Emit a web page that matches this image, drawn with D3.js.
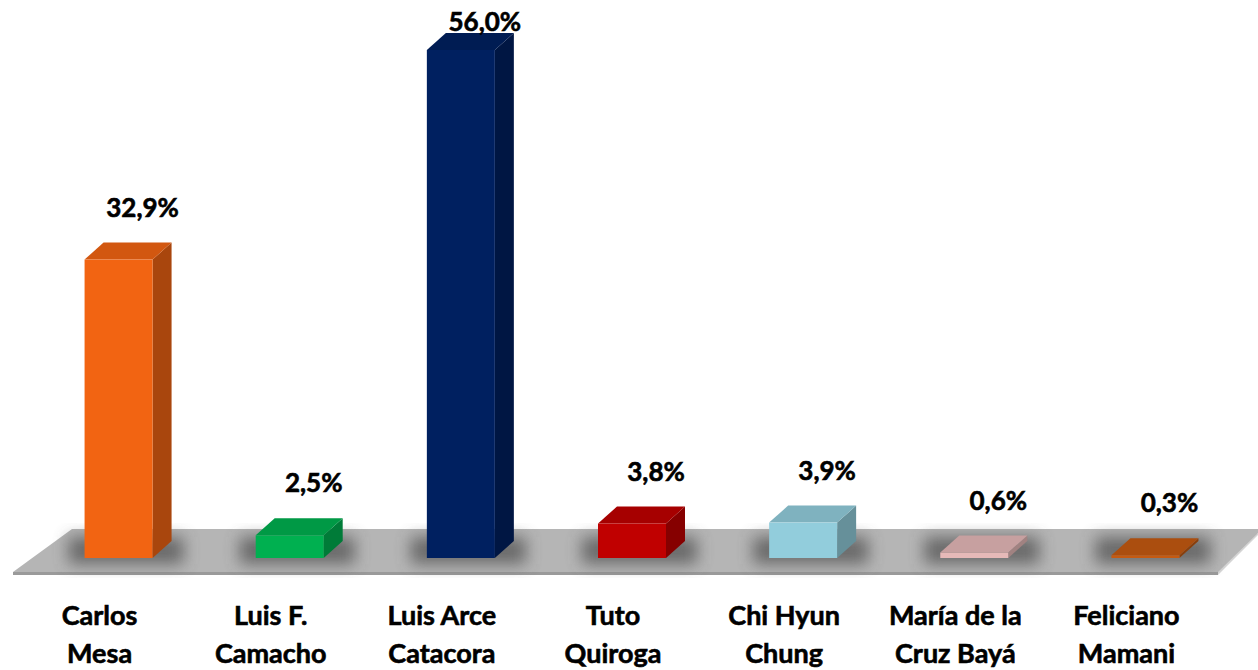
<!DOCTYPE html>
<html>
<head>
<meta charset="utf-8">
<script src="https://cdn.jsdelivr.net/npm/d3@7"></script>
<style>
  body { margin: 0; background: #fff; }
  text { font-family: Lato, "Open Sans", sans-serif; font-weight: bold; fill: #000; stroke: #000; stroke-width: 0.6px; }
</style>
</head>
<body>
<svg id="chart"></svg>
<script>
var width = 1258,
	height = 670;

// candidates (two lines each)
var names = ["Carlos Mesa", "Luis F. Camacho", "Luis Arce Catacora", "Tuto Quiroga",
	"Chi Hyun Chung", "María de la Cruz Bayá", "Feliciano Mamani"];
var nameLines = [["Carlos", "Mesa"], ["Luis F.", "Camacho"], ["Luis Arce", "Catacora"],
	["Tuto", "Quiroga"], ["Chi Hyun", "Chung"], ["María de la", "Cruz Bayá"], ["Feliciano", "Mamani"]];
var votes = [32.9, 2.5, 56.0, 3.8, 3.9, 0.6, 0.3];
var labels = ["32,9%", "2,5%", "56,0%", "3,8%", "3,9%", "0,6%", "0,3%"];
var colors = ["#F26412", "#00B050", "#002060", "#C00000", "#92CDDC", "#E6B9B8", "#C55A11"];

var floorFront = 572,
	floorBack = 529,
	baseY = 558,
	depthX = 19,
	depthY = 17,
	barW = 68;

var svg = d3.select("#chart")
	.attr("width", width)
	.attr("height", height);

var x = d3.scaleBand()
	.domain(names)
	.range([14, 1212]);

var y = d3.scaleLinear()
	.domain([0, 56])
	.range([baseY, 50]);

var defs = svg.append("defs");
defs.append("filter")
	.attr("id", "blur")
	.attr("x", "-50%").attr("y", "-50%").attr("width", "200%").attr("height", "200%")
	.append("feGaussianBlur")
	.attr("stdDeviation", 8);

// floor
svg.append("polygon")
	.attr("points", [[13, floorFront + 3], [1218, floorFront + 3], [1262, floorBack + 2], [1262, floorBack + 4]].join(" "))
	.attr("fill", "#d4d4d4");
svg.append("polygon")
	.attr("points", [[13, floorFront], [72, floorBack], [1262, floorBack], [1218, floorFront]].join(" "))
	.attr("fill", "#b5b5b5");
svg.append("line")
	.attr("x1", 13).attr("y1", floorFront + 1.5)
	.attr("x2", 1218).attr("y2", floorFront + 1.5)
	.attr("stroke", "#9a9a9a")
	.attr("stroke-width", 3);

var bar = svg.selectAll("g.bar")
	.data(names)
.enter().append("g")
	.attr("class", "bar")
	.attr("transform", function(d) { return "translate(" + (x(d) + x.bandwidth() / 2 + 19 - barW / 2) + ",0)"; });

// soft shadow around the base
bar.append("rect")
	.attr("x", -16)
	.attr("y", baseY - depthY - 4)
	.attr("width", barW + depthX + 28)
	.attr("height", depthY + 10)
	.attr("fill", "#4a4a4a")
	.attr("opacity", 0.7)
	.attr("filter", "url(#blur)");

// side face
bar.append("polygon")
	.attr("points", function(d, i) {
		var t = y(votes[i]);
		return [[barW, baseY], [barW + depthX, baseY - depthY], [barW + depthX, t - depthY], [barW, t]].join(" ");
	})
	.attr("fill", function(d, i) { return d3.color(colors[i]).darker(1); });

// top face
bar.append("polygon")
	.attr("points", function(d, i) {
		var t = y(votes[i]);
		return [[0, t], [depthX, t - depthY], [barW + depthX, t - depthY], [barW, t]].join(" ");
	})
	.attr("fill", function(d, i) { return d3.color(colors[i]).darker(0.4); });

// front face
bar.append("rect")
	.attr("x", 0)
	.attr("y", function(d, i) { return y(votes[i]); })
	.attr("width", barW)
	.attr("height", function(d, i) { return baseY - y(votes[i]); })
	.attr("fill", function(d, i) { return colors[i]; });

// value labels
bar.append("text")
	.attr("x", barW / 2 + 24)
	.attr("y", function(d, i) { return Math.max(y(votes[i]) - depthY - 26, 31); })
	.attr("text-anchor", "middle")
	.style("font-size", "26px")
	.text(function(d, i) { return labels[i]; });

// category labels
var cat = svg.selectAll("g.cat")
	.data(names)
.enter().append("g")
	.attr("class", "cat")
	.attr("transform", function(d) { return "translate(" + (x(d) + x.bandwidth() / 2) + ",625)"; });

cat.selectAll("text")
	.data(function(d, i) { return nameLines[i]; })
.enter().append("text")
	.attr("x", 0)
	.attr("y", function(d, j) { return j * 38; })
	.attr("text-anchor", "middle")
	.style("font-size", "27px")
	.text(function(d) { return d; });
</script>
</body>
</html>
